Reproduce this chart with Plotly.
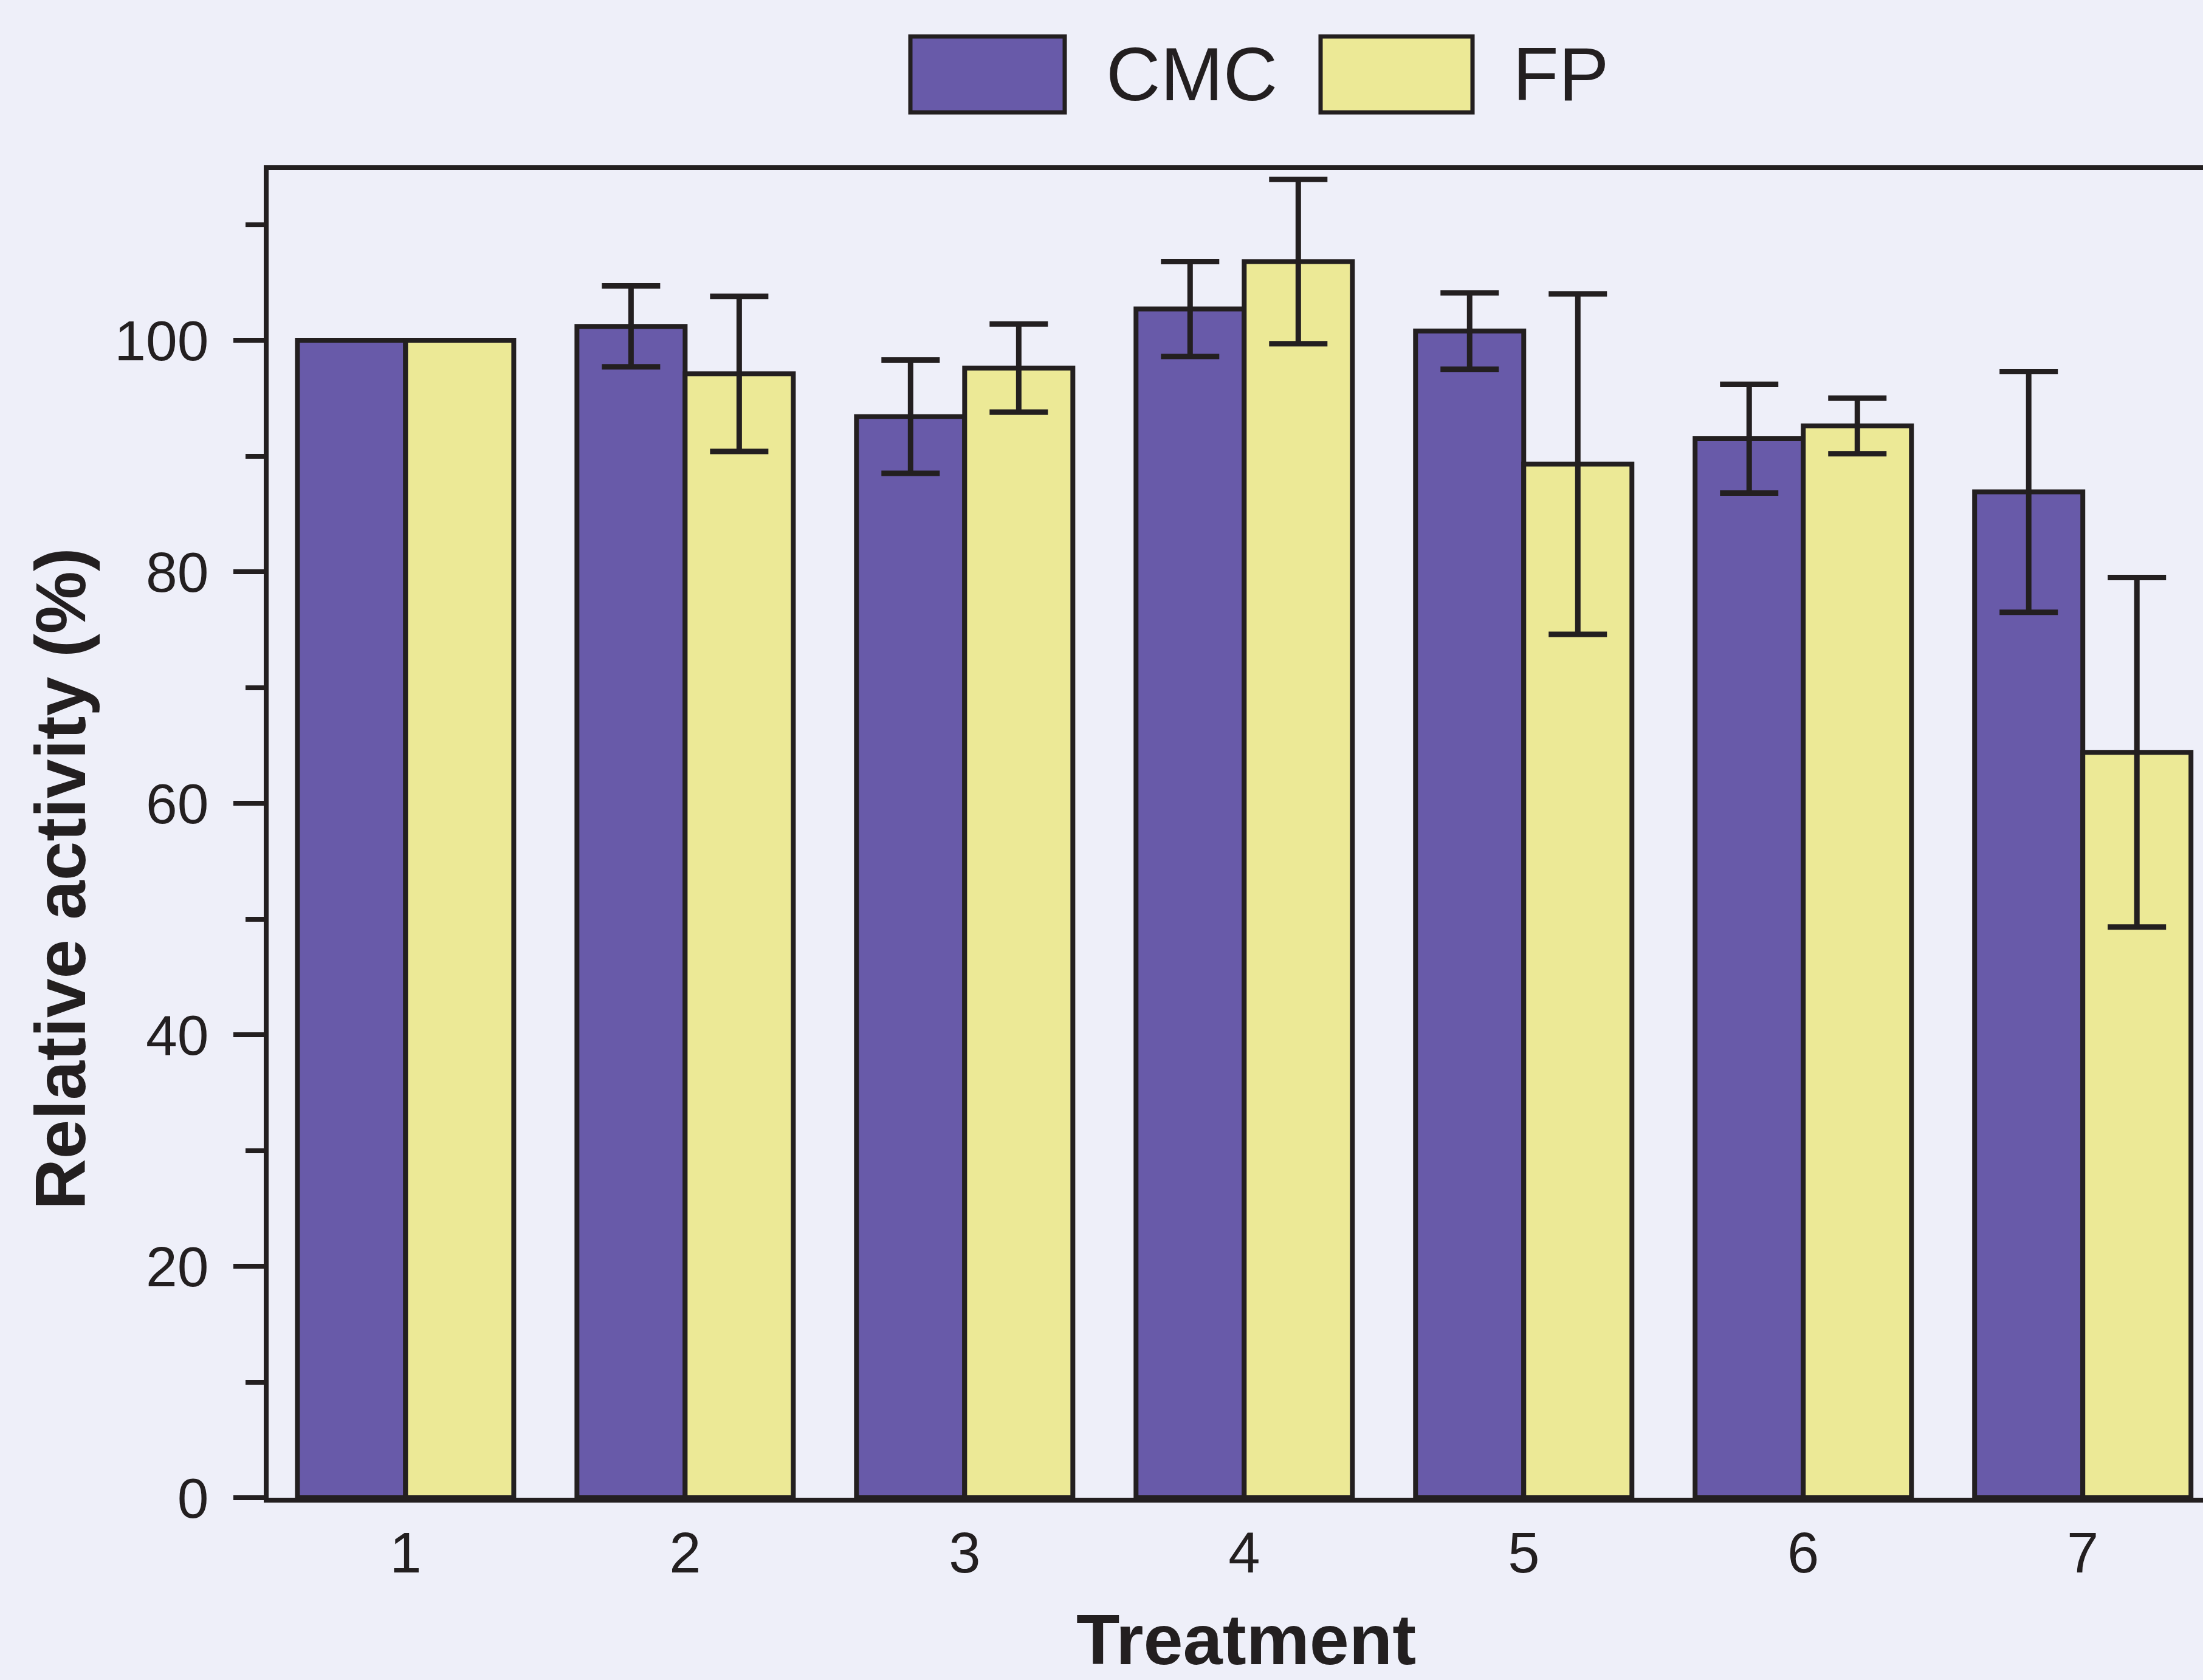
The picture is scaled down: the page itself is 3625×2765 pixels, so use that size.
import numpy as np
import plotly.graph_objects as go

# Treatment groups and relative activity (%) of the two substrates
treatments = [1, 2, 3, 4, 5, 6, 7]
cmc_mean = [100.0, 101.2, 93.4, 102.7, 100.8, 91.5, 86.9]
cmc_err = [np.nan, 3.5, 4.9, 4.1, 3.3, 4.7, 10.4]   # treatment 1 is the reference, no SD
fp_mean = [100.0, 97.1, 97.6, 106.8, 89.3, 92.6, 64.4]
fp_err = [np.nan, 6.7, 3.8, 7.1, 14.7, 2.4, 15.1]

series_names = ["CMC", "FP"]
series_colors = ["#685aa9", "#ece996"]
y_ticks = [0, 20, 40, 60, 80, 100]
y_minor_ticks = [10, 30, 50, 70, 90, 110]

INK = "#231f20"
BG = "#eeeff9"
FONT = "Liberation Sans, Arial, sans-serif"

W, H = 3625, 2765
M_L, M_R, M_T, M_B = 442, 0, 280, 300
PW, PH = W - M_L - M_R, H - M_T - M_B


def px_x(x):
    return (x - M_L) / PW


def px_y(y):
    return (H - M_B - y) / PH


fig = go.Figure()
for name, color, mean, err in [
    (series_names[0], series_colors[0], cmc_mean, cmc_err),
    (series_names[1], series_colors[1], fp_mean, fp_err),
]:
    fig.add_trace(go.Bar(
        x=treatments, y=mean, name=name,
        marker=dict(color=color, line=dict(color=INK, width=8)),
        error_y=dict(type="data", array=np.array(err, dtype=float), visible=True,
                     color=INK, thickness=9, width=48),
        showlegend=False,
    ))

# Legend: large swatches with labels above the plot
legend_items = [
    (series_names[0], series_colors[0], 1498, 1752, 1818),
    (series_names[1], series_colors[1], 2173, 2423, 2487),
]
for name, color, x0, x1, tx in legend_items:
    fig.add_shape(type="rect", xref="paper", yref="paper",
                  x0=px_x(x0), x1=px_x(x1), y0=px_y(185), y1=px_y(60),
                  fillcolor=color, line=dict(color=INK, width=7))
    fig.add_annotation(text=name, xref="paper", yref="paper",
                       x=px_x(tx), y=px_y(122), xanchor="left", yanchor="middle",
                       showarrow=False, font=dict(family=FONT, size=124, color=INK))

# Axis titles
fig.add_annotation(text="<b>Relative activity (%)</b>", xref="paper", yref="paper",
                   x=px_x(100), y=px_y(1446), xanchor="center", yanchor="middle",
                   textangle=-90, showarrow=False,
                   font=dict(family=FONT, size=116, color=INK))
fig.add_annotation(text="<b>Treatment</b>", xref="paper", yref="paper",
                   x=px_x(2050), y=px_y(2698), xanchor="center", yanchor="middle",
                   showarrow=False, font=dict(family=FONT, size=117, color=INK))

fig.update_layout(
    width=W, height=H,
    margin=dict(l=M_L, r=M_R, t=M_T, b=M_B, autoexpand=False),
    paper_bgcolor=BG, plot_bgcolor=BG,
    barmode="group", bargap=0.226, bargroupgap=0.0,
    font=dict(family=FONT, color=INK),
    showlegend=False,
)
fig.update_xaxes(
    range=[0.51, 7.43], tickmode="array", tickvals=treatments,
    ticktext=[str(t) for t in treatments],
    ticks="", showgrid=False, zeroline=False,
    showline=True, linecolor=INK, linewidth=8, mirror=True,
    tickfont=dict(family=FONT, size=94, color=INK),
    ticklabelstandoff=2, automargin=False,
)
fig.update_yaxes(
    range=[0, 114.7], tickmode="array", tickvals=y_ticks,
    ticks="outside", ticklen=50, tickwidth=8, tickcolor=INK,
    minor=dict(tickmode="array", tickvals=y_minor_ticks,
               ticks="outside", ticklen=30, tickwidth=8, tickcolor=INK, showgrid=False),
    showgrid=False, zeroline=False,
    showline=True, linecolor=INK, linewidth=8, mirror=False,
    tickfont=dict(family=FONT, size=93, color=INK),
    ticklabelstandoff=22, automargin=False,
)

fig.write_html("out.html")
